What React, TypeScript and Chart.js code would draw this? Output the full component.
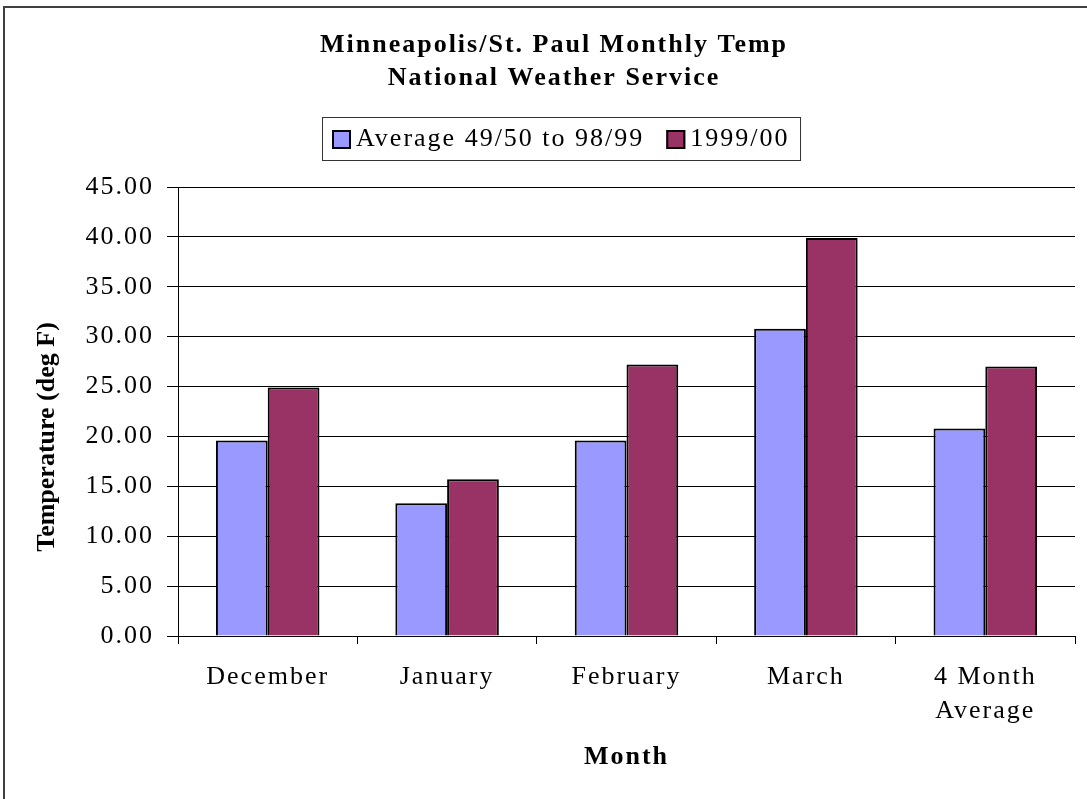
import React, { useEffect, useRef } from "react";
import { Chart, registerables } from "chart.js";

Chart.register(...registerables);

const titleLines = ["Minneapolis/St. Paul Monthly Temp", "National Weather Service"];
const categories: (string | string[])[] = ["December", "January", "February", "March", ["4 Month", "Average"]];
const seriesNames = ["Average 49/50 to 98/99", "1999/00"];
const averageValues = [19.6, 13.3, 19.6, 30.8, 20.8];
const seasonValues = [24.9, 15.7, 27.2, 39.9, 27.0];
const seriesColors = ["#9999FF", "#993366"];
const yTitle = "Temperature (deg F)";
const xTitle = "Month";

const SERIF = "'Liberation Serif', 'Times New Roman', serif";

const decorPlugin = {
  id: "decor",
  beforeLayout(chart: any) {
    (chart.ctx as any).letterSpacing = "2px";
  },
  beforeDraw(chart: any) {
    const ctx = chart.ctx;
    (ctx as any).letterSpacing = "2px";
    ctx.save();
    ctx.fillStyle = "#ffffff";
    ctx.fillRect(0, 0, chart.width, chart.height);
    ctx.strokeStyle = "#404040";
    ctx.lineWidth = 2;
    ctx.beginPath();
    ctx.moveTo(4, chart.height + 5);
    ctx.lineTo(4, 7);
    ctx.lineTo(chart.width + 5, 7);
    ctx.stroke();
    ctx.restore();
  },
  afterDraw(chart: any) {
    const ctx = chart.ctx;
    ctx.save();
    // title
    ctx.fillStyle = "#000";
    ctx.textAlign = "center";
    ctx.textBaseline = "middle";
    ctx.font = `bold 26px ${SERIF}`;
    (ctx as any).letterSpacing = "2px";
    titleLines.forEach((t, i) => ctx.fillText(t, 554, 45 + i * 33));
    // y axis title
    ctx.save();
    (ctx as any).letterSpacing = "0px";
    ctx.translate(47, 437);
    ctx.rotate(-Math.PI / 2);
    ctx.fillText(yTitle, 0, 0);
    ctx.restore();
    // legend
    ctx.font = `26px ${SERIF}`;
    (ctx as any).letterSpacing = "2px";
    ctx.textAlign = "left";
    const frameX = 322.5, frameY = 117.5, frameH = 43;
    let x = 332;
    const boxSize = 19;
    const yMid = 139.5;
    const datasets = chart.data.datasets;
    const positions: number[] = [];
    datasets.forEach((ds: any) => {
      positions.push(x);
      const w = ctx.measureText(ds.label).width;
      x += boxSize + 5 + w + 22;
    });
    const frameW = x - 22 - frameX + 11;
    ctx.strokeStyle = "#333";
    ctx.lineWidth = 1;
    ctx.strokeRect(frameX, frameY, frameW, frameH);
    datasets.forEach((ds: any, i: number) => {
      const bx = positions[i];
      const by = 130;
      ctx.fillStyle = ds.backgroundColor;
      ctx.fillRect(bx, by, boxSize, boxSize);
      ctx.strokeStyle = "#000";
      ctx.lineWidth = 2;
      ctx.strokeRect(bx + 1, by + 1, boxSize - 2, boxSize - 2);
      ctx.fillStyle = "#000";
      ctx.fillText(ds.label, bx + boxSize + 5, yMid);
    });
    ctx.restore();
  },
};

export default function App() {
  const ref = useRef<HTMLCanvasElement | null>(null);
  useEffect(() => {
    document.body.style.margin = "0";
    document.body.style.overflow = "hidden";
    const canvas = ref.current!;
    const chart = new Chart(canvas, {
      type: "bar",
      data: {
        labels: categories as any,
        datasets: [
          {
            label: seriesNames[0],
            data: averageValues,
            backgroundColor: seriesColors[0],
            borderColor: "#000",
            borderWidth: 2,
          },
          {
            label: seriesNames[1],
            data: seasonValues,
            backgroundColor: seriesColors[1],
            borderColor: "#000",
            borderWidth: 2,
          },
        ],
      },
      options: {
        responsive: false,
        animation: false,
        devicePixelRatio: 1,
        layout: { padding: { top: 187, right: 12, bottom: 0, left: 0 } },
        datasets: { bar: { categoryPercentage: 0.577, barPercentage: 1 } },
        plugins: {
          legend: { display: false },
          title: { display: false },
          tooltip: { enabled: false },
        },
        scales: {
          x: {
            grid: {
              display: true,
              drawOnChartArea: false,
              drawTicks: true,
              tickLength: 8,
              color: "#000",
              lineWidth: 1,
              offset: true,
            },
            border: { display: true, color: "#000", width: 1 },
            ticks: {
              color: "#000",
              font: { family: SERIF, size: 26, lineHeight: 34 / 26 },
              padding: 16,
              maxRotation: 0,
              autoSkip: false,
            },
            title: {
              display: true,
              text: xTitle,
              color: "#000",
              font: { family: SERIF, size: 26, weight: "bold", lineHeight: 1.2 },
              padding: { top: 0, bottom: 26 },
            },
            afterFit(scale: any) {
              scale.height = 163;
            },
          },
          y: {
            min: 0,
            max: 45,
            grid: {
              color: "#000",
              lineWidth: 1,
              tickLength: 11,
              drawTicks: true,
            },
            border: { display: true, color: "#000", width: 1 },
            ticks: {
              stepSize: 5,
              color: "#000",
              font: { family: SERIF, size: 26, lineHeight: 1.2 },
              padding: 13,
              callback: (v: any) => Number(v).toFixed(2),
            },
            title: { display: false },
            afterFit(scale: any) {
              scale.width = 178;
            },
          },
        },
      },
      plugins: [decorPlugin],
    });
    return () => chart.destroy();
  }, []);
  return <canvas ref={ref} width={1087} height={799} style={{ display: "block" }} />;
}
